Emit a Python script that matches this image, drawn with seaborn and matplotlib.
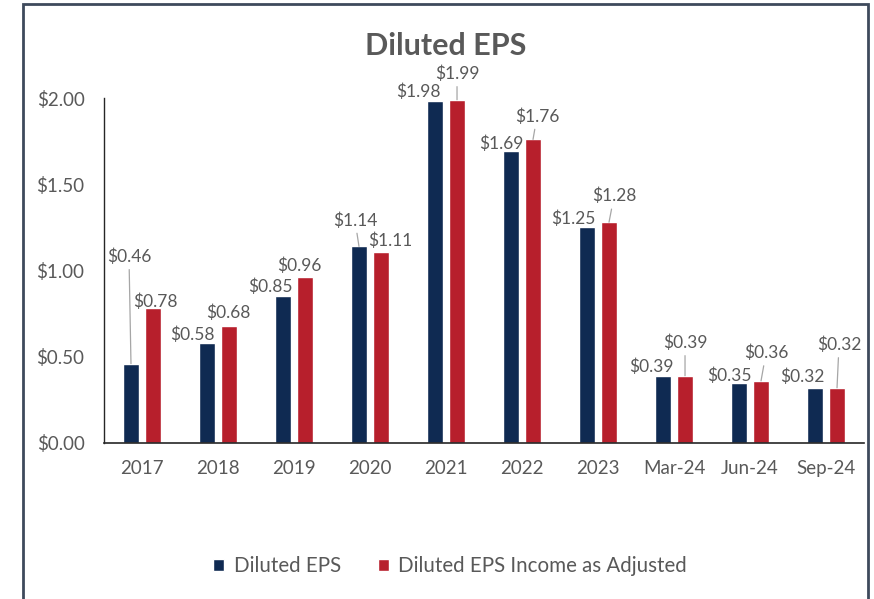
import matplotlib
matplotlib.use("Agg")
import matplotlib.pyplot as plt
import seaborn as sns
import pandas as pd
from matplotlib.patches import Rectangle

# ---- data ----
periods = ["2017", "2018", "2019", "2020", "2021", "2022", "2023", "Mar-24", "Jun-24", "Sep-24"]
diluted_eps = [0.46, 0.58, 0.85, 1.14, 1.98, 1.69, 1.25, 0.39, 0.35, 0.32]
adjusted_eps = [0.78, 0.68, 0.96, 1.11, 1.99, 1.76, 1.28, 0.39, 0.36, 0.32]
series_names = ["Diluted EPS", "Diluted EPS Income as Adjusted"]
y_ticks = [0.0, 0.5, 1.0, 1.5, 2.0]

# label placement (pixel offsets from bar top) and leader-line flags
navy_offsets = [(-2, 107), (-15, 8), (-13, 10), (-4, 26), (-17, 10), (-10, 8), (-14, 9), (-12, 9), (-10, 7), (-13, 11)]
navy_leader = [True, False, False, True, False, False, False, False, False, False]
red_offsets = [(2, 7), (-1, 13), (-6, 12), (9, 11), (0, 26), (4, 23), (5, 26), (0, 33), (5, 28), (2, 43)]
red_leader = [False, False, False, False, True, True, True, True, True, True]

colors = ["#0f2a52", "#b71f2c"]
text_gray = "#595959"

df = pd.DataFrame({
    "period": periods * 2,
    "eps": diluted_eps + adjusted_eps,
    "series": [series_names[0]] * len(periods) + [series_names[1]] * len(periods),
})

sns.set_theme(style="white")
plt.rcParams["font.family"] = ["Lato", "DejaVu Sans"]

fig = plt.figure(figsize=(8.74, 5.99), dpi=100)
ax = fig.add_axes([104 / 874, 1 - 443 / 599, 760 / 874, 345 / 599])

sns.barplot(data=df, x="period", y="eps", hue="series", order=periods,
            hue_order=series_names, palette=colors, width=0.58, gap=0.25,
            saturation=1, ax=ax, legend=True)

ax.set_xlim(-0.5, len(periods) - 0.5)
ax.set_ylim(0, 2.0)
ax.set_yticks(y_ticks)
ax.set_yticklabels([f"${v:.2f}" for v in y_ticks])
ax.set_xlabel("")
ax.set_ylabel("")
ax.tick_params(axis="both", length=0, labelsize=13.5, colors=text_gray)
ax.tick_params(axis="y", pad=14)
ax.tick_params(axis="x", pad=12)
for side in ["top", "right"]:
    ax.spines[side].set_visible(False)
ax.spines["left"].set_color("#262626")
ax.spines["left"].set_linewidth(1.0)
ax.spines["bottom"].set_color("#262626")
ax.spines["bottom"].set_linewidth(1.2)

# value labels
for container, offs, leads in zip(ax.containers, [navy_offsets, red_offsets], [navy_leader, red_leader]):
    for bar, (dx, dy), lead in zip(container, offs, leads):
        bx = bar.get_x() + bar.get_width() / 2
        by = bar.get_height()
        kw = {}
        if lead:
            kw["arrowprops"] = dict(arrowstyle="-", color="#a6a6a6", lw=0.9,
                                    shrinkA=1, shrinkB=0)
        ax.annotate(f"${by:.2f}", xy=(bx, by), xytext=(dx, dy),
                    textcoords="offset pixels", ha="center", va="center",
                    fontsize=12.5, color=text_gray, annotation_clip=False, **kw)

fig.text(446 / 874, 1 - 46 / 599, "Diluted EPS", ha="center", va="center",
         fontsize=22, fontweight="bold", color=text_gray)

handles, labels = ax.get_legend_handles_labels()
ax.legend(handles, labels, loc="center", bbox_to_anchor=(450 / 874, 1 - 566 / 599),
          bbox_transform=fig.transFigure, ncol=2, frameon=False,
          handlelength=0.55, handleheight=0.55, handletextpad=0.45,
          columnspacing=1.8, prop={"size": 14.8})
for t in ax.get_legend().get_texts():
    t.set_color(text_gray)

fig.patches.append(Rectangle((23 / 874, -0.02), (868 - 23) / 874, 1.02 - 4 / 599,
                             transform=fig.transFigure, fill=False,
                             edgecolor="#3e4a5c", linewidth=2, figure=fig))

fig.savefig("out.png", dpi=100, facecolor="white")
